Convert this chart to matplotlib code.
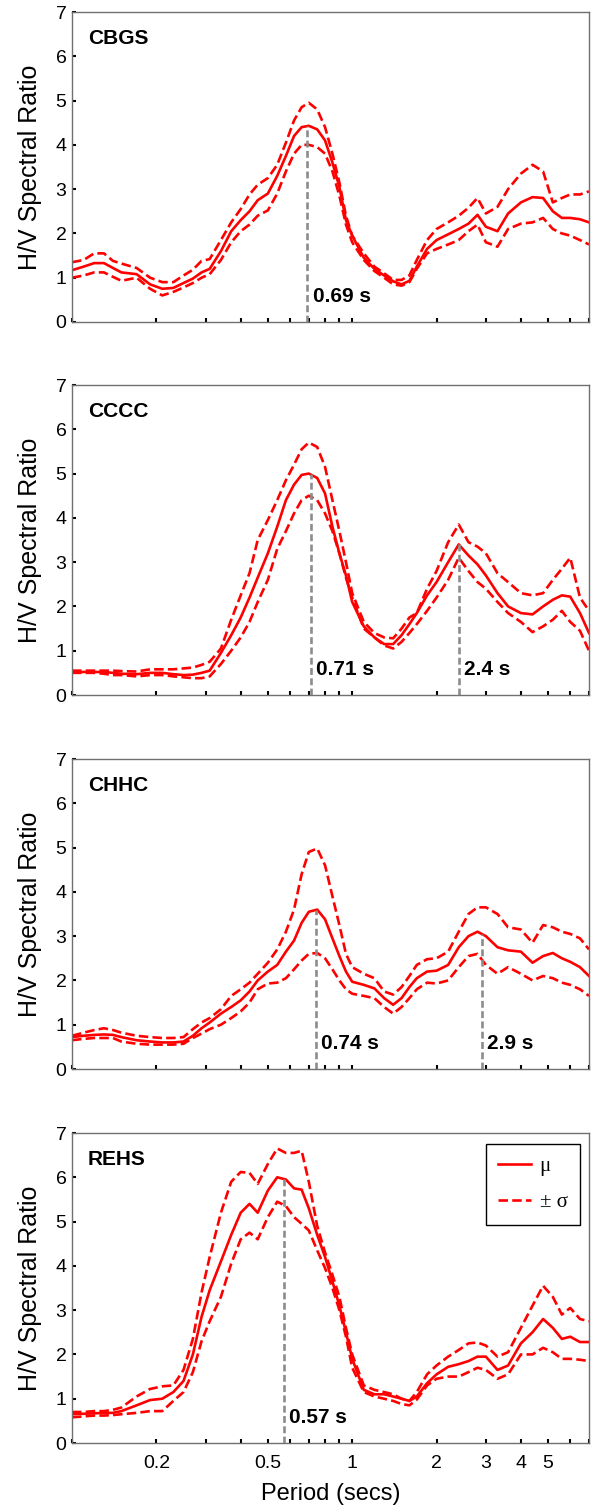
import matplotlib
matplotlib.use("Agg")
import matplotlib.pyplot as plt
import numpy as np
from matplotlib.ticker import FixedLocator, NullFormatter, FixedFormatter

plt.rcParams['font.family'] = ['Liberation Sans', 'DejaVu Sans']

# period grid (s), shared by every curve
period = [0.10, 0.11, 0.12, 0.13, 0.14, 0.15, 0.17, 0.19, 0.21, 0.23, 0.25,
          0.27, 0.29, 0.31, 0.34, 0.37, 0.40, 0.43, 0.46, 0.50, 0.54, 0.58,
          0.62, 0.66, 0.70, 0.75, 0.80, 0.85, 0.90, 0.95, 1.0, 1.1, 1.2,
          1.3, 1.4, 1.5, 1.6, 1.7, 1.85, 2.0, 2.2, 2.4, 2.6, 2.8, 3.0, 3.3,
          3.6, 4.0, 4.4, 4.8, 5.2, 5.6, 6.0, 6.5, 7.0]

cbgs_mu = [1.17, 1.25, 1.33, 1.33, 1.22, 1.12, 1.08, 0.85, 0.75, 0.77, 0.88, 0.98, 1.12, 1.2, 1.6,
           2.05, 2.3, 2.5, 2.75, 2.9, 3.3, 3.75, 4.2, 4.4, 4.43, 4.35, 4.1, 3.6, 3.05, 2.3,
           1.95, 1.45, 1.2, 1.05, 0.92, 0.85, 0.93, 1.25, 1.65, 1.85, 1.98, 2.1, 2.22, 2.42, 2.15,
           2.05, 2.45, 2.7, 2.82, 2.8, 2.5, 2.35, 2.35, 2.32, 2.25]
cbgs_hi = [1.35, 1.4, 1.55, 1.55, 1.38, 1.32, 1.22, 1.0, 0.9, 0.9, 1.05, 1.18, 1.38, 1.42, 1.85,
           2.25, 2.55, 2.88, 3.1, 3.25, 3.55, 4.05, 4.55, 4.85, 4.95, 4.8, 4.4, 3.8, 3.15, 2.4,
           1.95, 1.55, 1.25, 1.1, 0.95, 0.95, 1.05, 1.4, 1.85, 2.1, 2.25, 2.4, 2.58, 2.8, 2.45,
           2.6, 3.0, 3.35, 3.55, 3.4, 2.7, 2.8, 2.88, 2.88, 2.95]
cbgs_lo = [1.0, 1.05, 1.12, 1.12, 1.02, 0.93, 1.0, 0.75, 0.6, 0.68, 0.78, 0.88, 1.0, 1.08, 1.4,
           1.8, 2.05, 2.2, 2.4, 2.52, 2.9, 3.4, 3.8, 4.0, 4.0, 3.95, 3.8, 3.4, 2.85, 2.2,
           1.8, 1.4, 1.15, 1.0, 0.85, 0.82, 0.9, 1.2, 1.55, 1.65, 1.75, 1.85, 2.05, 2.2, 1.8,
           1.7, 2.1, 2.22, 2.25, 2.35, 2.1, 2.0, 1.95, 1.85, 1.75]

cccc_mu = [0.52, 0.52, 0.52, 0.52, 0.5, 0.48, 0.47, 0.5, 0.5, 0.47, 0.45, 0.46, 0.5, 0.55, 0.95,
           1.35, 1.75, 2.2, 2.65, 3.2, 3.8, 4.4, 4.75, 4.97, 5.0, 4.9, 4.55, 3.8, 3.2, 2.7,
           2.1, 1.55, 1.3, 1.15, 1.15, 1.35, 1.6, 1.85, 2.25, 2.55, 3.0, 3.4, 3.15, 2.95, 2.7,
           2.3, 2.0, 1.85, 1.82, 2.0, 2.15, 2.25, 2.22, 1.85, 1.4]
cccc_hi = [0.55, 0.55, 0.55, 0.55, 0.55, 0.54, 0.53, 0.58, 0.58, 0.58, 0.6, 0.62, 0.68, 0.75, 1.05,
           1.7, 2.25, 2.75, 3.5, 3.95, 4.4, 4.85, 5.2, 5.55, 5.7, 5.6, 5.15, 4.4, 3.7, 3.0,
           2.3, 1.65, 1.4, 1.3, 1.28, 1.5, 1.75, 1.85, 2.4, 2.8, 3.45, 3.85, 3.45, 3.35, 3.2,
           2.75, 2.55, 2.3, 2.25, 2.3, 2.6, 2.85, 3.1, 2.2, 1.9]
cccc_lo = [0.5, 0.5, 0.5, 0.48, 0.45, 0.45, 0.42, 0.45, 0.45, 0.42, 0.4, 0.38, 0.38, 0.42, 0.7,
           1.0, 1.3, 1.65, 2.1, 2.6, 3.3, 3.7, 4.1, 4.4, 4.5, 4.4, 4.1, 3.7, 3.2, 2.65,
           2.2, 1.5, 1.3, 1.12, 1.05, 1.2, 1.4, 1.6, 1.9, 2.2, 2.6, 3.1, 2.8, 2.55, 2.4,
           2.1, 1.85, 1.65, 1.42, 1.55, 1.7, 1.9, 1.65, 1.45, 1.0]

chhc_mu = [0.72, 0.75, 0.77, 0.78, 0.77, 0.72, 0.65, 0.62, 0.6, 0.6, 0.62, 0.75, 0.92, 1.05, 1.25,
           1.4, 1.55, 1.75, 2.0, 2.2, 2.35, 2.65, 2.9, 3.3, 3.55, 3.6, 3.38, 2.95, 2.55, 2.2,
           1.97, 1.9, 1.82, 1.6, 1.45, 1.6, 1.85, 2.05, 2.2, 2.22, 2.35, 2.75, 3.0, 3.1, 3.0,
           2.75, 2.68, 2.65, 2.4, 2.55, 2.62, 2.5, 2.42, 2.3, 2.1]
chhc_hi = [0.75, 0.82, 0.88, 0.92, 0.88, 0.82, 0.75, 0.72, 0.7, 0.7, 0.72, 0.9, 1.05, 1.15, 1.35,
           1.65, 1.8, 1.95, 2.15, 2.4, 2.7, 3.1, 3.6, 4.4, 4.9, 4.98, 4.6, 3.9, 3.25, 2.6,
           2.3, 2.15, 2.05, 1.75, 1.68, 1.85, 2.1, 2.35, 2.48, 2.5, 2.65, 3.1, 3.5, 3.65, 3.65,
           3.5, 3.2, 3.15, 2.85, 3.25, 3.2, 3.1, 3.05, 2.95, 2.7]
chhc_lo = [0.65, 0.68, 0.7, 0.7, 0.7, 0.62, 0.57, 0.55, 0.55, 0.55, 0.57, 0.7, 0.8, 0.9, 1.0,
           1.15, 1.3, 1.5, 1.8, 1.93, 1.95, 2.05, 2.25, 2.45, 2.6, 2.62, 2.5, 2.25, 2.0, 1.8,
           1.7, 1.65, 1.6, 1.4, 1.25, 1.4, 1.6, 1.8, 1.95, 1.93, 2.0, 2.3, 2.55, 2.6, 2.35,
           2.15, 2.3, 2.15, 2.0, 2.1, 2.05, 1.95, 1.9, 1.8, 1.65]

rehs_mu = [0.65, 0.66, 0.67, 0.68, 0.68, 0.72, 0.85, 0.97, 1.0, 1.15, 1.4, 2.0, 2.85, 3.45, 4.1,
           4.7, 5.2, 5.4, 5.2, 5.7, 6.0, 5.95, 5.75, 5.72, 5.3, 4.7, 4.2, 3.65, 3.1, 2.5,
           1.9, 1.2, 1.1, 1.1, 1.05, 1.0, 0.95, 1.05, 1.35, 1.55, 1.72, 1.78, 1.85, 1.95, 1.95,
           1.65, 1.75, 2.25, 2.5, 2.8, 2.6, 2.35, 2.4, 2.28, 2.28]
rehs_hi = [0.7, 0.7, 0.72, 0.72, 0.75, 0.8, 1.05, 1.22, 1.28, 1.3, 1.65, 2.35, 3.4, 4.2, 5.2,
           5.9, 6.12, 6.1, 5.85, 6.3, 6.65, 6.55, 6.55, 6.6, 5.9, 4.9, 4.3, 3.8, 3.3, 2.6,
           2.0, 1.3, 1.2, 1.15, 1.1, 1.0, 0.95, 1.15, 1.55, 1.75, 1.95, 2.1, 2.25, 2.27, 2.2,
           1.95, 2.05, 2.6, 3.1, 3.55, 3.3, 2.9, 3.05, 2.8, 2.75]
rehs_lo = [0.58, 0.6, 0.62, 0.62, 0.63, 0.65, 0.68, 0.72, 0.72, 0.95, 1.15, 1.6, 2.3, 2.75, 3.3,
           4.05, 4.6, 4.75, 4.6, 5.1, 5.45, 5.35, 5.1, 4.95, 4.8, 4.35, 3.95, 3.5, 3.0, 2.4,
           1.7, 1.15, 1.05, 1.0, 0.95, 0.88, 0.85, 0.98, 1.3, 1.45, 1.5, 1.5, 1.6, 1.7, 1.65,
           1.45, 1.55, 2.0, 2.0, 2.15, 2.05, 1.9, 1.9, 1.88, 1.85]

stations = ["CBGS", "CCCC", "CHHC", "REHS"]
means = [cbgs_mu, cccc_mu, chhc_mu, rehs_mu]
uppers = [cbgs_hi, cccc_hi, chhc_hi, rehs_hi]
lowers = [cbgs_lo, cccc_lo, chhc_lo, rehs_lo]
peaks = [[0.69], [0.71, 2.4], [0.74, 2.9], [0.57]]

major_x = [0.2, 0.5, 1, 2, 3, 4, 5]
minor_x = [0.1, 0.3, 0.4, 0.6, 0.7, 0.8, 0.9, 6, 7]

W, H = 593, 1512
fig = plt.figure(figsize=(W / 100, H / 100), dpi=100)
tops = [12, 385, 759, 1133]
ph = 310
red = '#ff0000'
dash = (0, (3.6, 1.6))

for i, name in enumerate(stations):
    ax = fig.add_axes([72 / W, 1 - (tops[i] + ph) / H, 517 / W, ph / H])
    l1, = ax.plot(period, means[i], color=red, lw=1.9)
    l2, = ax.plot(period, uppers[i], color=red, lw=1.9, ls=dash)
    ax.plot(period, lowers[i], color=red, lw=1.9, ls=dash)

    logp = np.log(period)
    for t in peaks[i]:
        h = np.interp(np.log(t), logp, means[i])
        ax.plot([t, t], [0, h], color='#8c8c8c', lw=1.9, ls=(0, (2.6, 1.3)), zorder=3)
        ax.annotate(f"{t:g} s", xy=(t, 0.58), xytext=(4, 0), textcoords='offset points',
                    ha='left', va='center', fontsize=15, fontweight='bold')

    ax.text(0.031, 0.914, name, transform=ax.transAxes, ha='left', va='center',
            fontsize=15, fontweight='bold')

    ax.set_xscale('log')
    ax.set_xlim(0.1, 7)
    ax.set_ylim(0, 7)
    ax.set_yticks(range(8))
    ax.xaxis.set_major_locator(FixedLocator(major_x))
    ax.xaxis.set_minor_locator(FixedLocator(minor_x))
    ax.xaxis.set_minor_formatter(NullFormatter())
    if i == 3:
        ax.xaxis.set_major_formatter(FixedFormatter([f"{v:g}" for v in major_x]))
        ax.set_xlabel("Period (secs)", fontsize=17)
        ax.xaxis.set_label_coords(0.5, -0.13)
    else:
        ax.xaxis.set_major_formatter(NullFormatter())
    ax.tick_params(axis='both', which='both', direction='in', length=3, width=1.5,
                   top=False, right=False, labelsize=14)
    ax.tick_params(axis='x', pad=9)
    ax.tick_params(axis='y', pad=4)
    for s in ax.spines.values():
        s.set_color('#707070')
        s.set_linewidth(1.0)
    ax.set_ylabel("H/V Spectral Ratio", fontsize=18)
    ax.yaxis.set_label_coords(-0.058, 0.5)

    if i == 3:
        leg = ax.legend([l1, l2], ['μ', '± σ'], loc='upper right',
                        bbox_to_anchor=(0.983, 0.965), borderaxespad=0,
                        fancybox=False, edgecolor='k', framealpha=1,
                        handlelength=1.6, labelspacing=0.8, borderpad=0.6,
                        handletextpad=0.4,
                        prop={'family': ['Liberation Serif', 'DejaVu Serif'], 'size': 15})
        leg.get_frame().set_linewidth(1.0)

fig.savefig("out.png", dpi=100)
